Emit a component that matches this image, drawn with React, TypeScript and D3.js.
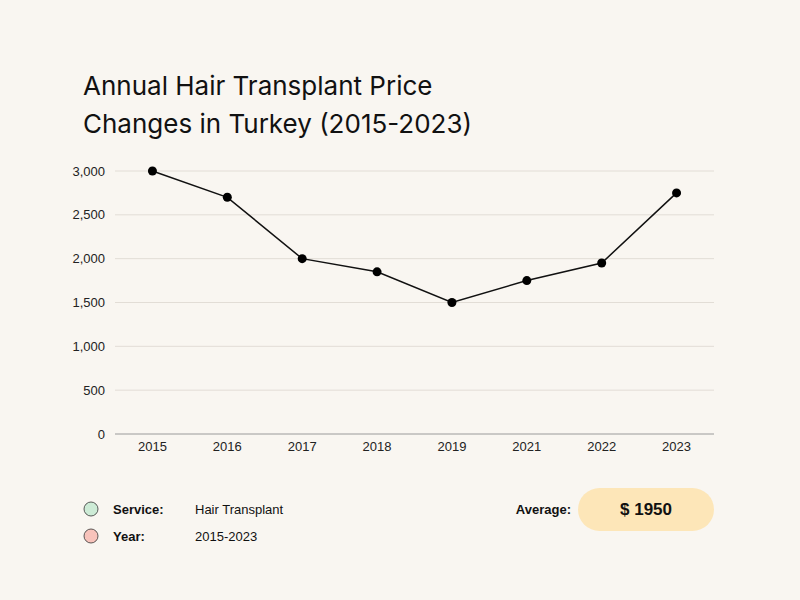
import * as d3 from 'd3';
import { useEffect } from 'react';

const years = ['2015', '2016', '2017', '2018', '2019', '2021', '2022', '2023'];
const prices = [3000, 2700, 2000, 1850, 1500, 1750, 1950, 2750];
const yTicks = [0, 500, 1000, 1500, 2000, 2500, 3000];
const titleLines = ['Annual Hair Transplant Price', 'Changes in Turkey (2015-2023)'];
const legendRows = [
    { label: 'Service:', value: 'Hair Transplant', color: '#cdebd6' },
    { label: 'Year:', value: '2015-2023', color: '#f8c3bb' },
];
const averageText = '$ 1950';

export default function App() {
    const width = 800;
    const height = 600;
    const margin = { top: 171, right: 86, bottom: 166, left: 115 };
    const innerWidth = width - margin.left - margin.right;
    const innerHeight = height - margin.top - margin.bottom;

    useEffect(() => {
        document.body.style.margin = '0';
        document.body.style.background = '#f9f6f1';
    }, []);

    const xScale = d3.scaleBand().domain(years).range([0, innerWidth]);
    const yScale = d3.scaleLinear().domain([0, 3000]).range([innerHeight, 0]);

    const line = d3
        .line<number>()
        .x((d, i) => xScale(years[i]) + xScale.bandwidth() / 2)
        .y((d) => yScale(d));

    const font = 'Liberation Sans, Arial, sans-serif';

    return (
        <svg
            width={width}
            height={height}
            style={{ position: 'fixed', left: 0, top: 0, display: 'block' }}
        >
            <rect width={width} height={height} fill="#f9f6f1" />
            {titleLines.map((t, i) => (
                <text
                    key={i}
                    x={83}
                    y={95 + i * 38}
                    fontFamily="Inter, sans-serif"
                    fontSize={26}
                    fill="#111"
                >
                    {t}
                </text>
            ))}
            <g transform={`translate(${margin.left}, ${margin.top})`}>
                {yTicks.map((t) => (
                    <g key={t} transform={`translate(0, ${yScale(t)})`}>
                        <line
                            x1={0}
                            x2={innerWidth}
                            stroke={t === 0 ? '#9a9a9a' : '#e2ddd6'}
                            strokeWidth={1}
                        />
                        <text
                            x={-10}
                            dy="0.35em"
                            textAnchor="end"
                            fontFamily={font}
                            fontSize={13}
                            fill="#222"
                        >
                            {d3.format(',')(t)}
                        </text>
                    </g>
                ))}
                {years.map((y) => (
                    <text
                        key={y}
                        x={xScale(y) + xScale.bandwidth() / 2}
                        y={innerHeight + 17}
                        textAnchor="middle"
                        fontFamily={font}
                        fontSize={13}
                        fill="#222"
                    >
                        {y}
                    </text>
                ))}
                <path d={line(prices)} fill="none" stroke="#111" strokeWidth={1.5} />
                {prices.map((p, i) => (
                    <circle
                        key={i}
                        cx={xScale(years[i]) + xScale.bandwidth() / 2}
                        cy={yScale(p)}
                        r={4.5}
                        fill="#000"
                    />
                ))}
            </g>
            {legendRows.map((r, i) => (
                <g key={r.label} transform={`translate(0, ${509 + i * 27})`}>
                    <circle cx={91} cy={0} r={7} fill={r.color} stroke="#333" strokeWidth={0.8} />
                    <text
                        x={113}
                        dy="0.35em"
                        fontFamily={font}
                        fontSize={13}
                        fontWeight="bold"
                        fill="#111"
                    >
                        {r.label}
                    </text>
                    <text x={195} dy="0.35em" fontFamily={font} fontSize={13} fill="#111">
                        {r.value}
                    </text>
                </g>
            ))}
            <text
                x={571}
                y={509}
                dy="0.35em"
                textAnchor="end"
                fontFamily={font}
                fontSize={13}
                fontWeight="bold"
                fill="#111"
            >
                Average:
            </text>
            <rect x={578} y={488} width={136} height={43} rx={21.5} fill="#fde6b8" />
            <text
                x={646}
                y={509}
                dy="0.35em"
                textAnchor="middle"
                fontFamily={font}
                fontSize={17}
                fontWeight="bold"
                fill="#111"
            >
                {averageText}
            </text>
        </svg>
    );
}
